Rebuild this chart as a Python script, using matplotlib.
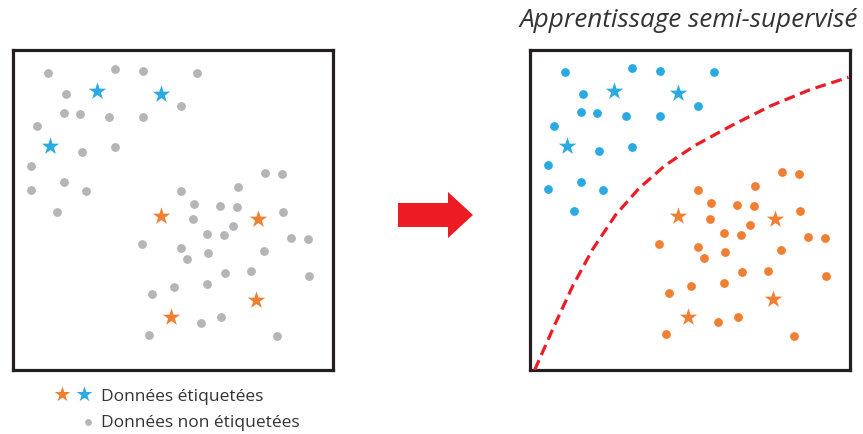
import matplotlib
matplotlib.use("Agg")
import matplotlib.pyplot as plt
from matplotlib.patches import Polygon

# point positions (box = 0..100 both ways)
upper_x = [11.0, 31.9, 40.9, 57.6, 16.7, 16.0, 21.2, 30.2, 40.9, 52.8, 7.6, 21.6, 31.9, 5.7, 5.9, 16.1, 23.1, 13.9]
upper_y = [92.9, 94.2, 93.3, 92.9, 86.1, 80.4, 80.1, 79.2, 79.2, 82.5, 76.1, 68.2, 69.6, 63.9, 56.3, 58.6, 56.0, 49.5]
upper_star_x = [26.5, 46.4, 11.6]
upper_star_y = [87.1, 86.4, 69.9]

lower_x = [79.0, 84.2, 70.6, 52.8, 56.8, 64.9, 70.1, 84.6, 56.5, 68.8, 60.8, 66.1, 87.0, 92.3, 40.5,
           52.5, 61.0, 78.7, 54.6, 66.5, 74.4, 92.7, 60.8, 50.5, 43.5, 65.3, 58.9, 42.8, 82.5]
lower_y = [61.6, 61.2, 57.3, 56.0, 52.0, 51.4, 51.0, 49.5, 47.1, 45.1, 42.6, 42.1, 41.4, 41.0, 39.3,
           38.2, 36.6, 37.2, 34.8, 30.4, 30.9, 29.3, 26.9, 26.0, 23.8, 16.5, 14.7, 11.0, 10.6]
lower_star_x = [46.4, 76.8, 76.2, 49.4]
lower_star_y = [48.1, 47.1, 22.0, 16.5]

# decision boundary (dashed curve)
bound_x = [1.6, 7.3, 13.5, 19.7, 26.9, 34.2, 42.4, 51.7, 63.1, 75.4, 87.8, 99.7]
bound_y = [-0.2, 12.7, 26.1, 37.5, 48.3, 56.6, 63.8, 70.0, 76.2, 82.4, 87.5, 91.3]

title = "Apprentissage semi-supervisé"
legend_labels = ["Données étiquetées", "Données non étiquetées"]

blue = "#29abe2"
orange = "#f07f32"
grey = "#b4b4b9"
red = "#ed1c24"
txt = "#333333"
fonts = ["Open Sans", "DejaVu Sans"]

W, H = 863, 434
fig = plt.figure(figsize=(W / 100, H / 100), dpi=100)


def panel(x0, y0, size):
    ax = fig.add_axes([x0 / W, 1 - (y0 + size) / H, size / W, size / H])
    ax.set_xlim(0, 100)
    ax.set_ylim(0, 100)
    ax.set_xticks([])
    ax.set_yticks([])
    for s in ax.spines.values():
        s.set_linewidth(2.3)
        s.set_color("#231f20")
    return ax


dot_s = 40
star_s = 175

left = panel(12.5, 50, 320)
left.scatter(upper_x + lower_x, upper_y + lower_y, s=dot_s, color=grey, linewidths=0, zorder=2)
left.scatter(upper_star_x, upper_star_y, s=star_s, marker="*", color=blue, linewidths=0, zorder=3)
left.scatter(lower_star_x, lower_star_y, s=star_s, marker="*", color=orange, linewidths=0, zorder=3)

right = panel(529.5, 49.5, 320)
right.scatter(upper_x, upper_y, s=dot_s, color=blue, linewidths=0, zorder=2)
right.scatter(lower_x, lower_y, s=dot_s, color=orange, linewidths=0, zorder=2)
right.scatter(upper_star_x, upper_star_y, s=star_s, marker="*", color=blue, linewidths=0, zorder=3)
right.scatter(lower_star_x, lower_star_y, s=star_s, marker="*", color=orange, linewidths=0, zorder=3)
right.plot(bound_x, bound_y, color=red, lw=2.3, ls=(0, (3.4, 1.8)), zorder=4, clip_on=True)

# overlay in pixel coordinates for arrow, title and legend
ov = fig.add_axes([0, 0, 1, 1], zorder=-1)
ov.set_xlim(0, W)
ov.set_ylim(H, 0)
ov.axis("off")

ov.add_patch(Polygon([(398, 203), (448, 203), (448, 192), (473, 215),
                      (448, 238), (448, 227), (398, 227)], closed=True, color=red, lw=0))

ov.text(689, 27, title, family=fonts, style="italic", fontsize=18.8, color=txt,
        ha="center", va="baseline")

ov.scatter([62], [394], s=star_s * 0.8, marker="*", color=orange, linewidths=0)
ov.scatter([84], [394], s=star_s * 0.8, marker="*", color=blue, linewidths=0)
ov.scatter([88], [422], s=24, color=grey, linewidths=0)
ov.text(101, 401, legend_labels[0], family=fonts, fontsize=12.5, color=txt, va="baseline")
ov.text(101, 427, legend_labels[1], family=fonts, fontsize=12.5, color=txt, va="baseline")

fig.savefig("out.png", dpi=100)
